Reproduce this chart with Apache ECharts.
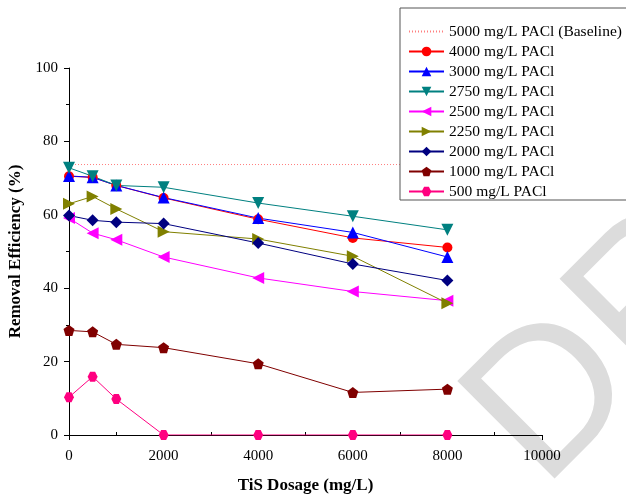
<!DOCTYPE html>
<html>
<head>
<meta charset="utf-8">
<script src="https://cdn.jsdelivr.net/npm/echarts@6/dist/echarts.min.js"></script>
<style>
  html, body { margin: 0; padding: 0; background: #fff; }
  #chart { width: 626px; height: 495px; }
</style>
</head>
<body>
<div id="chart"></div>
<script>
// TiS dosage (mg/L) on the x axis
const tisDosage = [0, 500, 1000, 2000, 4000, 6000, 8000];

// Removal efficiency (%) for each PACl dose
const baselineEfficiency = 73.7; // 5000 mg/L PACl, no TiS
const pacl4000 = [70.5, 70.2, 68.0, 64.6, 58.8, 53.7, 51.1];
const pacl3000 = [70.6, 70.2, 68.0, 64.7, 59.1, 55.2, 48.5];
const pacl2750 = [72.8, 70.5, 68.0, 67.5, 63.2, 59.6, 55.9];
const pacl2500 = [59.1, 55.0, 53.2, 48.5, 42.8, 39.1, 36.6];
const pacl2250 = [63.0, 65.0, 61.6, 55.4, 53.4, 48.7, 35.9];
const pacl2000 = [59.8, 58.5, 58.0, 57.6, 52.3, 46.6, 42.1];
const pacl1000 = [28.5, 28.1, 24.7, 23.8, 19.4, 11.6, 12.5];
const pacl500  = [10.3, 15.9, 9.8, 0, 0, 0, 0];

const xTicks = [0, 2000, 4000, 6000, 8000, 10000];
const yTicks = [0, 20, 40, 60, 80, 100];

const serif = '"Liberation Serif", "Times New Roman", serif';

const pentagon = 'path://M0,-1 L0.951,-0.309 L0.588,0.809 L-0.588,0.809 L-0.951,-0.309 Z';
const hexagon = 'path://M-1,0 L-0.5,-0.866 L0.5,-0.866 L1,0 L0.5,0.866 L-0.5,0.866 Z';

function pairs(values) {
  return tisDosage.map((x, i) => [x, values[i]]);
}

function lineSeries(name, values, color, symbol, size, rotate) {
  return {
    name: name,
    type: 'line',
    data: pairs(values),
    symbol: symbol,
    symbolSize: size,
    symbolRotate: rotate || 0,
    showAllSymbol: true,
    lineStyle: { color: color, width: 1 },
    itemStyle: { color: color },
    emphasis: { disabled: true },
    animation: false
  };
}

const baselineName = '5000 mg/L PACl (Baseline)';
const seriesNames = [baselineName, '4000 mg/L PACl', '3000 mg/L PACl', '2750 mg/L PACl',
  '2500 mg/L PACl', '2250 mg/L PACl', '2000 mg/L PACl', '1000 mg/L PACl', '500 mg/L PACl'];

const chart = echarts.init(document.getElementById('chart'), null, { renderer: 'canvas' });

chart.setOption({
  backgroundColor: '#ffffff',
  animation: false,
  grid: { left: 69, right: 84, top: 68, bottom: 60, containLabel: false, outerBoundsMode: 'none' },
  // faint watermark lettering behind the plot
  graphic: [{
    type: 'text',
    silent: true,
    z: 0,
    x: 504,
    y: 451,
    rotation: Math.PI / 4,
    style: {
      text: 'DRAFT',
      font: '200px "Liberation Sans", Arial, sans-serif',
      fill: '#dcdcdc',
      textAlign: 'left',
      textVerticalAlign: 'middle'
    }
  }],
  legend: {
    orient: 'vertical',
    left: 400,
    top: 8,
    itemWidth: 35,
    itemHeight: 12,
    itemGap: 4,
    padding: [15.5, 40, 0.5, 8],
    borderColor: '#555',
    borderWidth: 1,
    backgroundColor: '#ffffff',
    textStyle: { fontFamily: serif, fontSize: 15.5, color: '#000', lineHeight: 16 },
    selectedMode: false,
    data: seriesNames.map(n => n === baselineName
      ? { name: n, itemStyle: { color: 'rgba(0,0,0,0)', borderWidth: 0 } }
      : { name: n })
  },
  xAxis: [{
    type: 'value',
    min: xTicks[0],
    max: xTicks[xTicks.length - 1],
    interval: 2000,
    name: 'TiS Dosage (mg/L)',
    nameLocation: 'middle',
    nameGap: 42,
    nameTextStyle: { fontFamily: serif, fontSize: 17, fontWeight: 'bold', color: '#000' },
    axisLine: { show: true, onZero: false, lineStyle: { color: '#000', width: 1 } },
    axisTick: { show: true, inside: false, length: 5, lineStyle: { color: '#000' } },
    axisLabel: { fontFamily: serif, fontSize: 15, color: '#000', margin: 14, formatter: v => String(v) },
    splitLine: { show: false }
  }, {
    type: 'value',
    position: 'bottom',
    min: xTicks[0],
    max: xTicks[xTicks.length - 1],
    interval: 2000,
    axisLine: { show: false, onZero: false },
    axisTick: { show: false, inside: true },
    minorTick: { show: true, splitNumber: 2, length: 3, lineStyle: { color: '#000' } },
    axisLabel: { show: false },
    splitLine: { show: false }
  }],
  yAxis: {
    type: 'value',
    min: yTicks[0],
    max: yTicks[yTicks.length - 1],
    interval: 20,
    name: 'Removal Efficiency (%)',
    nameLocation: 'middle',
    nameGap: 39,
    nameTextStyle: { fontFamily: serif, fontSize: 17, fontWeight: 'bold', color: '#000' },
    axisLine: { show: true, onZero: false, lineStyle: { color: '#000', width: 1 } },
    axisTick: { show: true, inside: false, length: 5, lineStyle: { color: '#000' } },
    minorTick: { show: true, splitNumber: 2, length: 3, lineStyle: { color: '#000' } },
    axisLabel: { fontFamily: serif, fontSize: 15, color: '#000', margin: 11 },
    splitLine: { show: false }
  },
  series: [
    {
      name: baselineName,
      type: 'line',
      data: [[xTicks[0], baselineEfficiency], [xTicks[xTicks.length - 1], baselineEfficiency]],
      symbol: 'none',
      lineStyle: { color: '#ff7f7f', width: 1, type: [1, 2] },
      itemStyle: { color: '#ff7f7f' },
      emphasis: { disabled: true },
      animation: false
    },
    lineSeries(seriesNames[1], pacl4000, '#ff0000', 'circle', 10),
    lineSeries(seriesNames[2], pacl3000, '#0000ff', 'triangle', 12),
    lineSeries(seriesNames[3], pacl2750, '#008080', 'triangle', 12, 180),
    lineSeries(seriesNames[4], pacl2500, '#ff00ff', 'triangle', 12, 90),
    lineSeries(seriesNames[5], pacl2250, '#808000', 'triangle', 12, -90),
    lineSeries(seriesNames[6], pacl2000, '#000080', 'diamond', 12),
    lineSeries(seriesNames[7], pacl1000, '#800000', pentagon, 11),
    lineSeries(seriesNames[8], pacl500, '#ff0080', hexagon, 10)
  ]
});
</script>
</body>
</html>
